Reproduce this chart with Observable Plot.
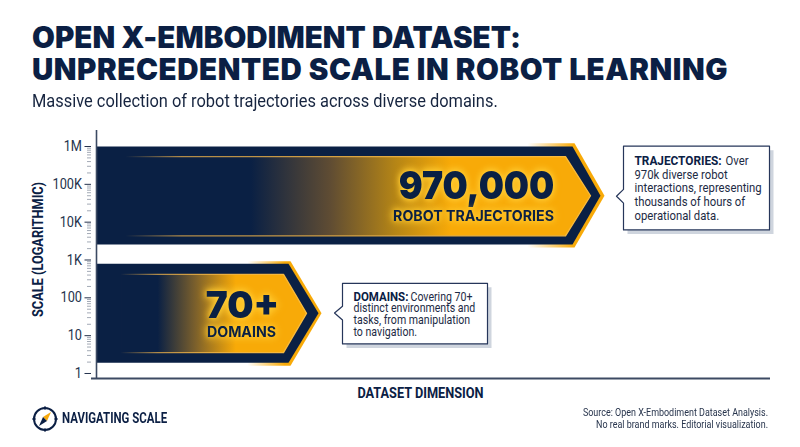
<!DOCTYPE html>
<html><head><meta charset="utf-8">
<script src="https://cdn.jsdelivr.net/npm/d3@7"></script>
<script src="https://cdn.jsdelivr.net/npm/@observablehq/plot@0.6"></script>
<style>
html,body{margin:0;padding:0;background:#fff}
#page{position:relative;width:800px;height:447px;overflow:hidden;font-family:Roboto,sans-serif;color:#0b1f44}
#title{position:absolute;left:32px;top:21px;font:900 29.500px/32px Inter,sans-serif;white-space:nowrap}
#title .a{letter-spacing:.07px}
#title .b{letter-spacing:.56px}
#sub{position:absolute;left:32px;top:90px;font:400 19px/22px Roboto,sans-serif;color:#16243f;white-space:nowrap;transform:scaleX(.864);transform-origin:left}
#chart{position:absolute;left:0;top:125px}
#brand{position:absolute;left:61.500px;top:411px;font:700 14.500px/16px Roboto,sans-serif;white-space:nowrap;transform:scaleX(.79);transform-origin:left}
#logo{position:absolute;left:31.500px;top:406px}
#src{position:absolute;right:32px;top:407px;text-align:right;font:400 10.500px/12px Roboto,sans-serif;color:#27344c;white-space:nowrap;transform:scaleX(.853);transform-origin:right}
.glow text{filter:drop-shadow(0 0 4px #ffd040) drop-shadow(0 0 2px #ffc520)}
</style></head>
<body><div id="page">
<div id="title"><span class="a">OPEN X-EMBODIMENT DATASET:</span><br><span class="b">UNPRECEDENTED SCALE IN ROBOT LEARNING</span></div>
<div id="sub">Massive collection of robot trajectories across diverse domains.</div>
<div id="chart"></div>
<svg id="logo" width="26" height="26" viewBox="0 0 26 26">
<circle cx="13" cy="13" r="11" fill="none" stroke="#0b1f44" stroke-width="2"/>
<path d="M13 0.500v3M13 22.500v3M0.500 13h3M22.500 13h3" stroke="#0b1f44" stroke-width="2"/>
<path d="M19 6L11 11L15 15Z" fill="#f7a90a"/><path d="M7 20L11 11L15 15Z" fill="#0b1f44"/>
</svg>
<div id="brand">NAVIGATING SCALE</div>
<div id="src">Source: Open X-Embodiment Dataset Analysis.<br>No real brand marks. Editorial visualization.</div>
</div>
<script>
const NAVY = "#0a2044", GOLD = "#f8aa08";
// Axis
const yDomain = [0.737, 2650000];
const xDomain = [0, 674];
const majorTicks = [1, 10, 100, 1000, 10000, 100000, 1000000];
const majorLabels = ["1", "10", "100", "1K", "10K", "100K", "1M"];
const minorMultipliers = [2, 3, 4, 5, 6, 7, 8, 9];
const minorDecades = [1, 10, 100, 1000, 10000, 100000];
const minorTicks = minorDecades.flatMap(d => minorMultipliers.map(m => d * m));
// Arrows (big, small)
const headlines = ["970,000", "70+"];
const categories = ["ROBOT TRAJECTORIES", "DOMAINS"];
const arrowMid = [50000, 39];
const navyTop = [1000000, 790], navyBottom = [2570, 1.93];
const navyShoulder = [476, 192], navyTip = [504, 222];
const edgeTop = [1220000, 925], edgeBottom = [2130, 1.6];
const edgeStart = [431, 151], edgeShoulder = [478, 194], edgeTip = [508, 225];
const innerTop = [543000, 419], innerBottom = [4350, 3.55];
const innerStart = [29, 24], innerShoulder = [469, 187], innerTip = [494, 210];
const headlineX = [380, 146], categoryX = [377, 145];
// Callouts
const noteLeft = [527, 246], noteRight = [673, 391], noteTip = [520, 238];
const noteTop = [1020000, 242], noteBottom = [6250, 6.04], noteMid = [48400, 39.8];
const noteBaseHi = [73300, 60], noteBaseLo = [32000, 26];
const noteHeads = ["TRAJECTORIES:", "DOMAINS:"];
const noteFirst = ["Over", "Covering 70+"];
const noteBodies = [
  "970k diverse robot\ninteractions, representing\nthousands of hours of\noperational data.",
  "distinct environments and\ntasks, from manipulation\nto navigation."
];

function arrow(start, top, bottom, shoulder, tip, mid) {
  return [[start, top], [shoulder, top], [tip, mid], [shoulder, bottom], [start, bottom], [start, top]];
}
function note(i) {
  return [[noteLeft[i], noteTop[i]], [noteRight[i], noteTop[i]], [noteRight[i], noteBottom[i]], [noteLeft[i], noteBottom[i]],
    [noteLeft[i], noteBaseLo[i]], [noteTip[i], noteMid[i]], [noteLeft[i], noteBaseHi[i]], [noteLeft[i], noteTop[i]]];
}
function gradient(id, stops) {
  const g = d3.create("svg:linearGradient").attr("id", id).attr("x1", 0).attr("x2", 1).attr("y1", 0).attr("y2", 0);
  stops.forEach(([o, c, a]) => g.append("stop").attr("offset", o).attr("stop-color", c).attr("stop-opacity", a));
  return g.node();
}
const defs = () => {
  const d = d3.create("svg:defs").node();
  d.append(gradient("edge0", [[0, GOLD, 0], [.6, GOLD, 1], [1, GOLD, 1]]));
  d.append(gradient("edge1", [[0, GOLD, 0], [.5, GOLD, 1], [1, GOLD, 1]]));
  d.append(gradient("fill0", [[0, NAVY, 1], [.27, NAVY, 1], [.44, "#5f4c33", 1], [.58, "#b58516", 1], [.7, GOLD, 1], [1, GOLD, 1]]));
  d.append(gradient("fill1", [[0, NAVY, 1], [.2, NAVY, 1], [.4, "#7a5f2c", 1], [.62, GOLD, 1], [1, GOLD, 1]]));
  d.append(gradient("line0", [[0, "#f8b84a", 0], [.12, "#f8b84a", .7], [1, "#fbbc3c", 1]]));
  d.append(gradient("line1", [[0, "#f8b84a", 0], [.2, "#f8b84a", .7], [1, "#fbbc3c", 1]]));
  return d;
};
const poly = (pts, o) => Plot.line(pts, {x: d => d[0], y: d => d[1], curve: "linear", ...o});
const arrows = [0, 1].flatMap(i => [
  poly(arrow(edgeStart[i], edgeTop[i], edgeBottom[i], edgeShoulder[i], edgeTip[i], arrowMid[i]), {fill: `url(#edge${i})`, stroke: "none"}),
  poly(arrow(0, navyTop[i], navyBottom[i], navyShoulder[i], navyTip[i], arrowMid[i]), {fill: NAVY, stroke: "none"}),
  poly(arrow(innerStart[i], innerTop[i], innerBottom[i], innerShoulder[i], innerTip[i], arrowMid[i]), {fill: `url(#fill${i})`, stroke: `url(#line${i})`, strokeWidth: 1.3}),
]);
const notes = [0, 1].flatMap(i => [
  poly(note(i), {fill: "#cfd5de", stroke: "none", dx: 4, dy: 4}),
  poly(note(i), {fill: "#fff", stroke: "#26365a", strokeWidth: 1.2}),
]);
const labels = [0, 1].flatMap(i => {
  const big = i === 0;
  return [
    Plot.text([headlines[i]], {x: headlineX[i], y: arrowMid[i], text: d => d, fontFamily: "Inter", fontWeight: 900, fontSize: big ? 39 : 37, fill: NAVY, lineAnchor: "bottom", dy: big ? 3 : 5, className: big ? "glow cond91" : "glow"}),
    Plot.text([categories[i]], {x: categoryX[i], y: arrowMid[i], text: d => d, fontFamily: "Inter", fontWeight: 700, fontSize: 14.2, fill: NAVY, lineAnchor: "bottom", dy: big ? 25 : 24, className: "glow"}),
  ];
});
const noteText = [0, 1].flatMap(i => {
  const big = i === 0;
  const fs = big ? 13 : 12.6, lh = big ? 13.6 / fs : 11.7 / fs;
  const headW = big ? 91 : 57;
  const dyHead = big ? -31.4 : -12.3;
  const dyBody = big ? 23.3 : 22.7;
  const pad = 11;
  const common = {y: noteMid[i], x: noteLeft[i], fontFamily: "Roboto", fontSize: fs, textAnchor: "start", lineAnchor: "bottom", fill: "#1d2b45", className: big ? "cond87" : "cond84"};
  return [
    Plot.text([noteHeads[i]], {...common, dx: pad, dy: dyHead, text: d => d, fontWeight: 700, fill: NAVY, className: "cond91"}),
    Plot.text([noteFirst[i]], {...common, dx: pad + headW, dy: dyHead, text: d => d}),
    Plot.text([noteBodies[i]], {...common, dx: pad, dy: dyBody, text: d => d, lineHeight: lh}),
  ];
});
const chart = Plot.plot({
  width: 800, height: 278,
  marginLeft: 91, marginRight: 30, marginTop: 5, marginBottom: 25,
  x: {domain: xDomain, range: [96, 770], axis: null},
  y: {type: "log", domain: yDomain},
  style: {background: "transparent", overflow: "visible"},
  marks: [
    defs,
    Plot.axisY({ticks: minorTicks, tickSize: 4, stroke: "#8b94a3", strokeWidth: .8, tickFormat: () => "", label: null}),
    Plot.axisY({ticks: majorTicks, tickSize: 6.5, tickPadding: 3, tickFormat: d => majorLabels[majorTicks.indexOf(d)], label: null, fontSize: 14.5, fontFamily: "Roboto", fill: "#26334d", stroke: "#26334d", strokeWidth: 1}),
    ...arrows,
    Plot.ruleX([0], {stroke: "#3c4a63", strokeWidth: 1.6}),
    Plot.ruleY([yDomain[0]], {stroke: "#3c4a63", strokeWidth: 2}),
    ...labels,
    ...notes,
    ...noteText,
    Plot.text(["SCALE (LOGARITHMIC)"], {frameAnchor: "left", dx: -53, dy: -5, textAnchor: "middle", rotate: -90, text: d => d, fontFamily: "Roboto", fontWeight: 700, fontSize: 15, fill: NAVY, className: "cond85"}),
    Plot.text(["DATASET DIMENSION"], {frameAnchor: "bottom", x: 324, dy: 19, text: d => d, fontFamily: "Roboto", fontWeight: 700, fontSize: 15, fill: NAVY, className: "cond85"}),
  ]
});
document.getElementById("chart").append(chart);
// Condensed lettering: none of the installed fonts is a condensed cut.
const condense = (sel, k) => chart.querySelectorAll(sel).forEach(t => t.setAttribute("transform", (t.getAttribute("transform") || "") + ` scale(${k} 1)`));
condense(".cond91 text", .91);
condense(".cond87 text", .87);
condense(".cond84 text", .84);
condense(".cond85 text", .85);
chart.querySelectorAll("g[aria-label='y-axis tick label'] text").forEach(t => t.setAttribute("transform", (t.getAttribute("transform") || "") + " scale(.88 1)"));
</script>
</body></html>
